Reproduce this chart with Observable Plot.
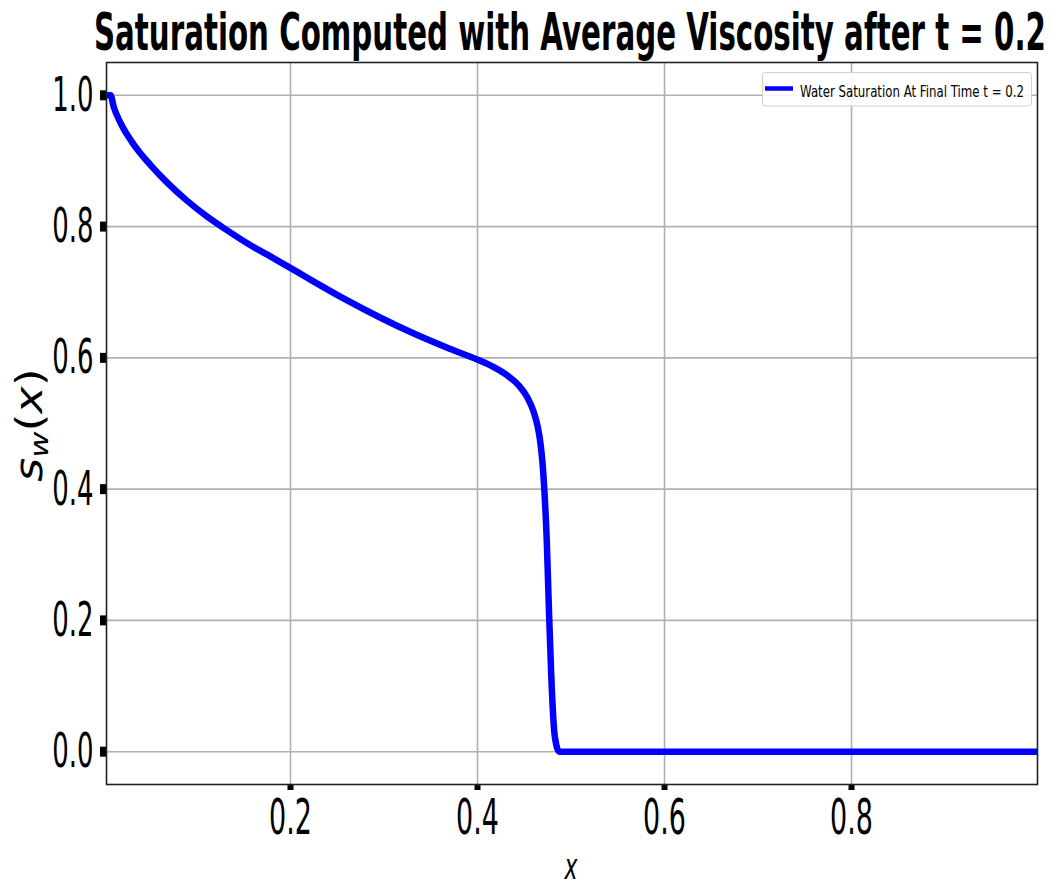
<!DOCTYPE html>
<html>
<head>
<meta charset="utf-8">
<script src="https://cdn.jsdelivr.net/npm/d3@7"></script>
<script src="https://cdn.jsdelivr.net/npm/@observablehq/plot@0.6"></script>
<style>
  html, body { margin: 0; padding: 0; background: #fff; }
  #chart svg { display: block; }
</style>
</head>
<body>
<div id="chart"></div>
<script>
// ---- data ----
const xPos = [0.0032, 0.0075, 0.011, 0.0182, 0.0324, 0.0503, 0.0681, 0.0895, 0.1109, 0.1323,
  0.1537, 0.1821, 0.2072, 0.2249, 0.2606, 0.2963, 0.3319, 0.3676, 0.4003,
  0.4174, 0.4318, 0.4442, 0.4532, 0.4602, 0.4645, 0.4674, 0.4695, 0.4715, 0.4740,
  0.4763, 0.4788, 0.4825, 0.4875, 0.6, 0.8, 0.9989];
const satW = [1.0, 1.0, 0.982, 0.958, 0.9250, 0.8937, 0.8670, 0.8392, 0.8152, 0.7942,
  0.7745, 0.7515, 0.7310, 0.7162, 0.6875, 0.6611, 0.6370, 0.6154, 0.5971,
  0.5858, 0.5732, 0.5579, 0.5401, 0.5172, 0.4944, 0.4690, 0.4400, 0.3979, 0.324,
  0.22, 0.1184, 0.025, 0.0, 0.0, 0.0, 0.0];
const xTicks = [0.2, 0.4, 0.6, 0.8];
const yTicks = [0.0, 0.2, 0.4, 0.6, 0.8, 1.0];
const titleText = "Saturation Computed with Average Viscosity after t = 0.2";
const legendText = "Water Saturation At Final Time t = 0.2";
const xLabel = "x";

const rows = xPos.map((x, i) => ({x, s: satW[i]}));

const W = 1060, H = 886;
const mL = 106, mR = 23, mT = 62, mB = 102;

const plot = Plot.plot({
  width: W,
  height: H,
  marginLeft: mL,
  marginRight: mR,
  marginTop: mT,
  marginBottom: mB,
  style: {fontFamily: "DejaVu Sans", background: "#fff", color: "#000", overflow: "visible"},
  x: {domain: [0.0032, 0.9989]},
  y: {domain: [-0.05, 1.05]},
  marks: [
    Plot.gridX(xTicks, {stroke: "#b0b0b0", strokeOpacity: 1, strokeWidth: 1.6}),
    Plot.gridY(yTicks, {stroke: "#b0b0b0", strokeOpacity: 1, strokeWidth: 1.6}),
    Plot.line(rows, {x: "x", y: "s", stroke: "#0000ff", strokeWidth: 6.5, curve: "monotone-x", strokeLinejoin: "miter", clip: true}),
    Plot.axisX(xTicks, {tickSize: 6, tickPadding: 8, strokeWidth: 6, fontSize: 50, tickFormat: d3.format(".1f"), label: null}),
    Plot.axisY(yTicks, {tickSize: 6, tickPadding: 7, strokeWidth: 10, fontSize: 48, tickFormat: d3.format(".1f"), label: null}),
    Plot.frame({stroke: "#222", strokeWidth: 1.6})
  ]
});

document.getElementById("chart").appendChild(plot);
const svg = d3.select(plot);

// condense tick labels horizontally (reference uses a squeezed font)
svg.selectAll('g[aria-label="x-axis tick label"] text, g[aria-label="y-axis tick label"] text').each(function() {
  const L = this.getComputedTextLength();
  this.setAttribute("textLength", (L * 0.54).toFixed(1));
  this.setAttribute("lengthAdjust", "spacingAndGlyphs");
});

// title
svg.append("text")
  .attr("x", 94).attr("y", 50)
  .attr("text-anchor", "start")
  .attr("font-family", "DejaVu Sans").attr("font-weight", "bold").attr("font-size", 51)
  .attr("fill", "#000")
  .attr("textLength", 952).attr("lengthAdjust", "spacingAndGlyphs")
  .text(titleText);

// x label
svg.append("text")
  .attr("x", 571).attr("y", 879)
  .attr("text-anchor", "middle")
  .attr("font-family", "DejaVu Sans").attr("font-style", "italic").attr("font-size", 36)
  .attr("textLength", 13).attr("lengthAdjust", "spacingAndGlyphs")
  .text(xLabel);

// y label s_w(x)
const yl = svg.append("text")
  .attr("transform", "translate(42,425) scale(0.8,1) rotate(-90)")
  .attr("text-anchor", "middle")
  .attr("font-family", "DejaVu Sans").attr("font-size", 46).attr("fill", "#000");
yl.append("tspan").attr("font-style", "italic").text("s");
yl.append("tspan").attr("font-style", "italic").attr("font-size", 32).attr("dy", 8).text("w");
yl.append("tspan").attr("dy", -8).text("(");
yl.append("tspan").attr("font-style", "italic").text("x");
yl.append("tspan").text(")");

// legend
const lg = svg.append("g").attr("text-anchor", "start");
lg.append("rect")
  .attr("x", 762.5).attr("y", 72.5).attr("width", 269).attr("height", 33.5)
  .attr("rx", 3).attr("fill", "#fff").attr("fill-opacity", 0.85)
  .attr("stroke", "#d0d0d0").attr("stroke-width", 1);
lg.append("line")
  .attr("x1", 765).attr("x2", 793).attr("y1", 88.5).attr("y2", 88.5)
  .attr("stroke", "#0000ff").attr("stroke-width", 4.5);
lg.append("text")
  .attr("x", 800).attr("y", 96.5)
  .attr("text-anchor", "start")
  .attr("font-family", "DejaVu Sans").attr("font-size", 16).attr("fill", "#000")
  .attr("textLength", 224).attr("lengthAdjust", "spacingAndGlyphs")
  .text(legendText);
</script>
</body>
</html>
